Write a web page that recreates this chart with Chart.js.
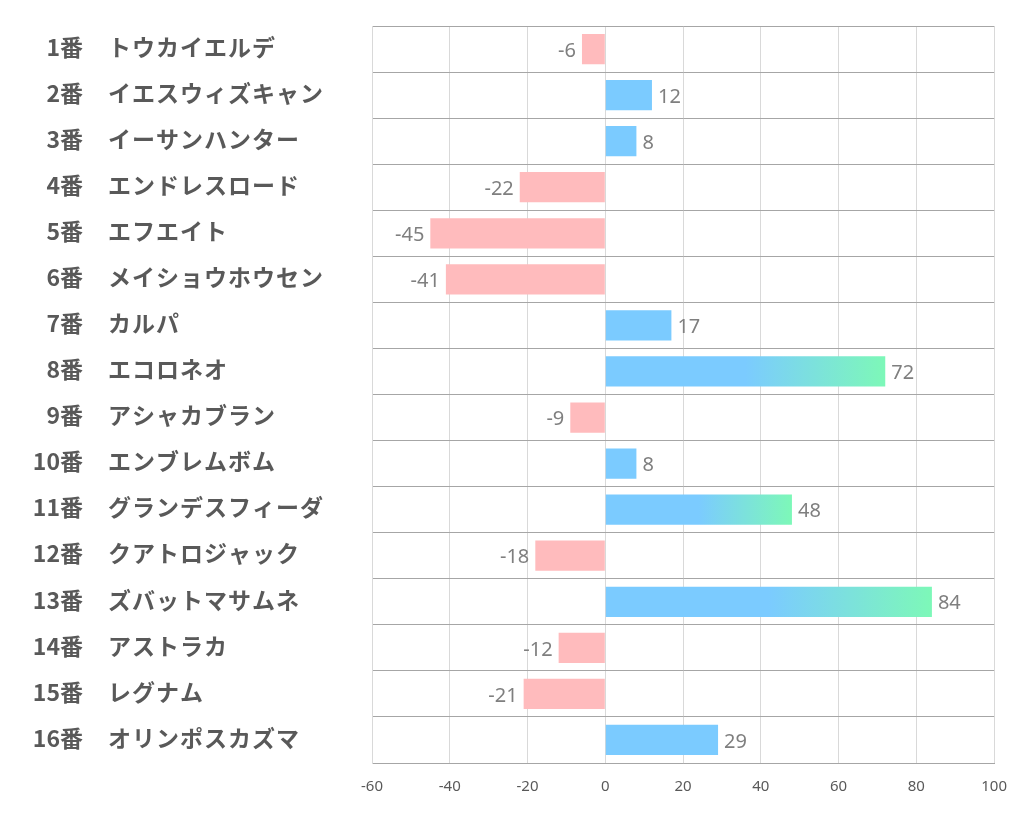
<!DOCTYPE html>
<html><head><meta charset="utf-8">
<script src="https://cdn.jsdelivr.net/npm/chart.js@4/dist/chart.umd.min.js"></script>
<style>html,body{margin:0;padding:0;background:#fff;}#wrap{width:1022px;height:834px;}</style>
</head><body><div id="wrap"><canvas id="c" width="1022" height="834"></canvas></div>
<script>
const numbers = ["1番","2番","3番","4番","5番","6番","7番","8番","9番","10番","11番","12番","13番","14番","15番","16番"];
const names = ["トウカイエルデ","イエスウィズキャン","イーサンハンター","エンドレスロード","エフエイト","メイショウホウセン","カルパ","エコロネオ","アシャカブラン","エンブレムボム","グランデスフィーダ","クアトロジャック","ズバットマサムネ","アストラカ","レグナム","オリンポスカズマ"];
const values = [-6,12,8,-22,-45,-41,17,72,-9,8,48,-18,84,-12,-21,29];
const xTicks = [-60,-40,-20,0,20,40,60,80,100];

const PINK = '#FFBBBD', BLUE = '#7BCBFF', GREEN = '#7DF8B8';

function barColor(ctx){
  const v = ctx.raw;
  if (v < 0) return PINK;
  if (v < 40) return BLUE;
  const sx = ctx.chart.scales && ctx.chart.scales.x;
  if (!sx) return BLUE;
  const x0 = sx.getPixelForValue(0), x1 = sx.getPixelForValue(v);
  if (!isFinite(x0) || !isFinite(x1) || x1 <= x0) return BLUE;
  const g = ctx.chart.ctx.createLinearGradient(x0, 0, x1, 0);
  g.addColorStop(0, BLUE);
  g.addColorStop(0.5, BLUE);
  g.addColorStop(1, GREEN);
  return g;
}

const labelPlugin = {
  id: 'labels',
  afterDatasetsDraw(chart){
    const c = chart.ctx;
    const meta = chart.getDatasetMeta(0);
    c.save();
    c.font = '20px "Noto Sans", "Open Sans", sans-serif';
    c.fillStyle = '#7F7F7F';
    c.textBaseline = 'middle';
    meta.data.forEach((bar, i) => {
      const v = values[i];
      if (v >= 0) { c.textAlign = 'left'; c.fillText(String(v), bar.x + 6, bar.y + 2); }
      else { c.textAlign = 'right'; c.fillText(String(v), bar.x - 6, bar.y + 2); }
    });
    c.restore();
    const ys = chart.scales.y;
    c.save();
    c.font = 'bold 23px "Noto Sans CJK JP", sans-serif';
    c.fillStyle = '#595959';
    c.textBaseline = 'middle';
    numbers.forEach((n, i) => {
      const y = ys.getPixelForValue(i) - 2;
      c.textAlign = 'right';
      c.letterSpacing = '0px';
      c.fillText(n, 83, y);
      c.textAlign = 'left';
      c.letterSpacing = '1px';
      c.fillText(names[i], 108, y);
    });
    c.restore();
  }
};

new Chart(document.getElementById('c'), {
  type: 'bar',
  data: {
    labels: names,
    datasets: [{
      data: values,
      backgroundColor: barColor,
      borderWidth: 0,
      barPercentage: 0.8,
      categoryPercentage: 0.82
    }]
  },
  options: {
    indexAxis: 'y',
    responsive: false,
    animation: false,
    devicePixelRatio: 1,
    layout: { padding: { left: 372, right: 27, top: 26, bottom: 23 } },
    plugins: { legend: { display: false }, tooltip: { enabled: false } },
    scales: {
      x: {
        type: 'linear',
        min: -60, max: 100,
        afterBuildTicks(scale){ scale.ticks = xTicks.map(v => ({ value: v })); },
        grid: { color: '#D9D9D9', lineWidth: 1, drawTicks: false },
        border: { display: true, color: '#A6A6A6', width: 1 },
        ticks: { padding: 15, color: '#595959', font: { size: 15, family: '"Noto Sans", sans-serif' }, maxRotation: 0 }
      },
      y: {
        type: 'category',
        grid: { color: '#A6A6A6', lineWidth: 1, offset: true, drawTicks: false },
        border: { display: true, color: '#D9D9D9', width: 1 },
        ticks: { display: false }
      }
    }
  },
  plugins: [labelPlugin]
});
</script>
</body></html>
